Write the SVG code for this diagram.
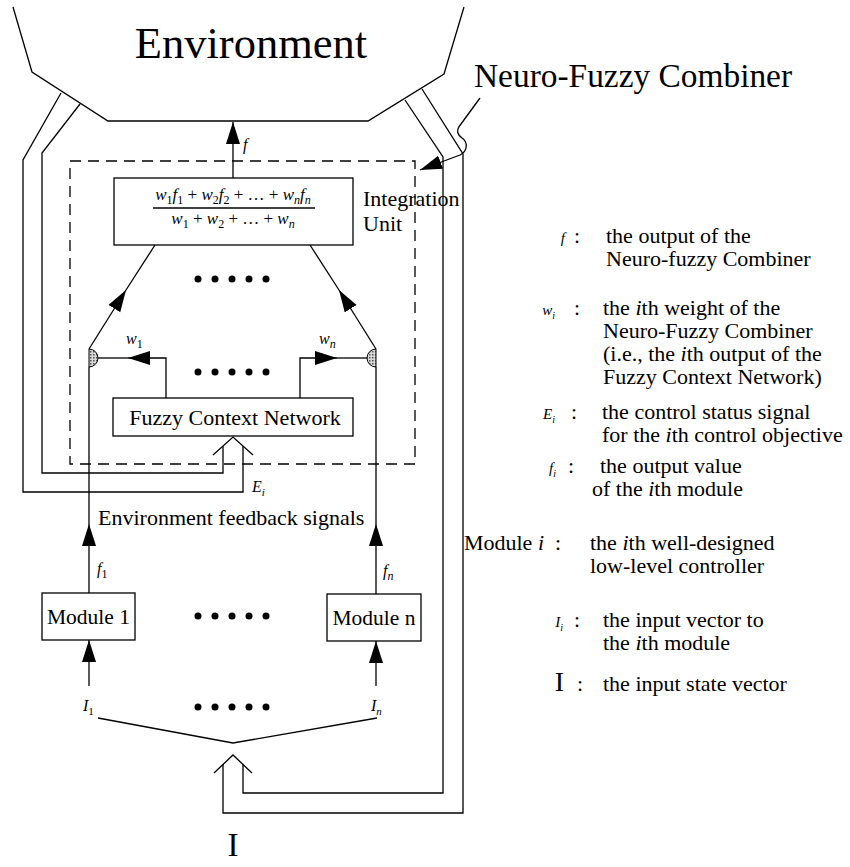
<svg xmlns="http://www.w3.org/2000/svg" width="850" height="867" viewBox="0 0 850 867">
<style>
  .ln{fill:none;stroke:#000;stroke-width:1.3}
  .box{fill:#fff;stroke:#000;stroke-width:1.3}
  .dash{fill:none;stroke:#000;stroke-width:1.3;stroke-dasharray:11 7}
  .t{font-family:"Liberation Serif","Times New Roman",serif;fill:#000}
  .i{font-family:"Liberation Serif","Times New Roman",serif;font-style:italic;fill:#000}
  .arr{marker-end:url(#ah)}
</style>
<defs>
  <marker id="ah" markerUnits="userSpaceOnUse" markerWidth="24" markerHeight="16" refX="22" refY="7" orient="auto">
    <path d="M0,0 L22,7 L0,14 Z" fill="#000"/>
  </marker>
  <pattern id="dots" width="3" height="3" patternUnits="userSpaceOnUse">
    <rect width="3" height="3" fill="#d8d8d8"/>
    <rect width="1.5" height="1.5" fill="#555"/>
  </pattern>
</defs>

<g id="environment">
  <polyline class="ln" points="13,7 32,72 108,121 368,121 444,74 464,7"/>
  <text class="t" x="251" y="58" font-size="44.5" text-anchor="middle">Environment</text>
</g>

<g id="neuro-fuzzy-combiner-label">
  <text class="t" x="474" y="87" font-size="33.4">Neuro-Fuzzy Combiner</text>
</g>

<g id="neuro-fuzzy-combiner">
  <rect class="dash" x="70" y="161" width="345" height="303"/>
</g>

<g id="integration-unit">
  <rect class="box" x="114" y="178" width="239" height="67"/>
  <text class="i" x="233" y="200" font-size="17" text-anchor="middle">w<tspan font-size="12" font-style="normal" dy="4">1</tspan><tspan dy="-4">f</tspan><tspan font-size="12" font-style="normal" dy="4">1</tspan><tspan font-style="normal" dy="-4"> + </tspan>w<tspan font-size="12" font-style="normal" dy="4">2</tspan><tspan dy="-4">f</tspan><tspan font-size="12" font-style="normal" dy="4">2</tspan><tspan font-style="normal" dy="-4"> + … + </tspan>w<tspan font-size="12" dy="4">n</tspan><tspan dy="-4">f</tspan><tspan font-size="12" dy="4">n</tspan></text>
  <line class="ln" x1="153" y1="208" x2="315" y2="208"/>
  <text class="i" x="233" y="224" font-size="17" text-anchor="middle">w<tspan font-size="12" font-style="normal" dy="4">1</tspan><tspan font-style="normal" dy="-4"> + </tspan>w<tspan font-size="12" font-style="normal" dy="4">2</tspan><tspan font-style="normal" dy="-4"> + … + </tspan>w<tspan font-size="12" dy="4">n</tspan></text>
  <text class="t" x="363" y="206" font-size="22">Integration</text>
  <text class="t" x="363" y="231" font-size="22">Unit</text>
</g>

<g id="fuzzy-context-network">
  <rect class="box" x="113" y="398" width="240" height="38"/>
  <text class="t" x="235" y="425" font-size="22" text-anchor="middle">Fuzzy Context Network</text>
</g>

<g id="module-1">
  <rect class="box" x="42" y="593" width="93" height="47"/>
  <text class="t" x="88.5" y="624" font-size="21.5" text-anchor="middle">Module 1</text>
</g>

<g id="module-n">
  <rect class="box" x="327" y="594" width="94" height="47"/>
  <text class="t" x="374" y="625" font-size="21.5" text-anchor="middle">Module n</text>
</g>

<g id="junctions">
  <path d="M89,349 A9,9 0 0,1 89,367 Z" fill="url(#dots)" stroke="#000" stroke-width="1"/>
  <path d="M376,349 A9,9 0 0,0 376,367 Z" fill="url(#dots)" stroke="#000" stroke-width="1"/>
</g>

<g id="connectors">
  <path class="ln arr" d="M233,178 L233,122"/>
  <path class="ln arr" d="M89,349 L126,290"/>
  <path class="ln" d="M126,290 L155,245"/>
  <path class="ln arr" d="M376,349 L339,290"/>
  <path class="ln" d="M339,290 L310,245"/>
  <path class="ln arr" d="M166,398 L166,358 L128,358"/>
  <path class="ln" d="M128,358 L98,358"/>
  <path class="ln arr" d="M300,398 L300,358 L337,358"/>
  <path class="ln" d="M337,358 L367,358"/>
  <path class="ln arr" d="M89,593 L89,524"/>
  <path class="ln" d="M89,524 L89,367"/>
  <path class="ln arr" d="M376,594 L376,524"/>
  <path class="ln" d="M376,524 L376,367"/>
  <path class="ln arr" d="M89,686 L89,640"/>
  <path class="ln arr" d="M376,686 L376,641"/>
  <path class="ln" d="M98,718 L233,743 L377,718"/>
  <path class="ln" d="M61,93 L23,160 L23,492 L243,492 L243,446"/>
  <path class="ln" d="M80,104 L42,153 L42,473 L223,473 L223,446"/>
  <path class="ln" d="M213,455 L233,437 L253,455"/>
  <path class="ln" d="M422,89 L463,154 L463,813 L223,813 L223,764"/>
  <path class="ln" d="M405,100 L443,157 L443,793 L243,793 L243,764"/>
  <path class="ln" d="M214,773 L233,755 L252,773"/>
  <path class="ln arr" d="M480,98 L461,124 C455,131 458,135 462,138 C468,142 468,151 460,155 L420,170"/>
</g>

<g id="ellipses" fill="#000">
  <circle cx="198" cy="279" r="3.5"/><circle cx="215" cy="279" r="3.5"/><circle cx="232" cy="279" r="3.5"/><circle cx="249" cy="279" r="3.5"/><circle cx="266" cy="279" r="3.5"/>
  <circle cx="198" cy="372" r="3.5"/><circle cx="215" cy="372" r="3.5"/><circle cx="232" cy="372" r="3.5"/><circle cx="249" cy="372" r="3.5"/><circle cx="266" cy="372" r="3.5"/>
  <circle cx="198" cy="616" r="3.5"/><circle cx="215" cy="616" r="3.5"/><circle cx="232" cy="616" r="3.5"/><circle cx="249" cy="616" r="3.5"/><circle cx="266" cy="616" r="3.5"/>
  <circle cx="198" cy="707" r="3.5"/><circle cx="215" cy="707" r="3.5"/><circle cx="232" cy="707" r="3.5"/><circle cx="249" cy="707" r="3.5"/><circle cx="266" cy="707" r="3.5"/>
</g>

<g id="labels">
  <text class="i" x="243" y="150" font-size="16">f</text>
  <text class="i" x="126" y="344" font-size="16">w<tspan font-size="12" font-style="normal" dy="4">1</tspan></text>
  <text class="i" x="319" y="344" font-size="16">w<tspan font-size="12" dy="4">n</tspan></text>
  <text class="i" x="252" y="492" font-size="16">E<tspan font-size="11" dy="4">i</tspan></text>
  <text class="t" x="98" y="525" font-size="22">Environment feedback signals</text>
  <text class="i" x="97" y="574" font-size="16">f<tspan font-size="12" font-style="normal" dy="4">1</tspan></text>
  <text class="i" x="383" y="576" font-size="16">f<tspan font-size="12" dy="4">n</tspan></text>
  <text class="i" x="83" y="711" font-size="16">I<tspan font-size="11" font-style="normal" dy="4">1</tspan></text>
  <text class="i" x="371" y="711" font-size="16">I<tspan font-size="11" dy="4">n</tspan></text>
  <text class="t" x="233" y="856" font-size="33" text-anchor="middle">I</text>
</g>

<g id="legend" class="t" font-size="22">
  <text class="i" x="565" y="243" font-size="15" text-anchor="end">f</text>
  <text x="574" y="243">:</text>
  <text x="606" y="243">the output of the</text>
  <text x="606" y="266">Neuro-fuzzy Combiner</text>

  <text class="i" x="555" y="315" font-size="15" text-anchor="end">w<tspan font-size="10" dy="4">i</tspan></text>
  <text x="574" y="315">:</text>
  <text x="603" y="315">the <tspan font-style="italic">i</tspan>th weight of the</text>
  <text x="603" y="338">Neuro-Fuzzy Combiner</text>
  <text x="603" y="361">(i.e., the <tspan font-style="italic">i</tspan>th output of the</text>
  <text x="603" y="384">Fuzzy Context Network)</text>

  <text class="i" x="555" y="419" font-size="15" text-anchor="end">E<tspan font-size="10" dy="4">i</tspan></text>
  <text x="571" y="419">:</text>
  <text x="602" y="419">the control status signal</text>
  <text x="602" y="442">for the <tspan font-style="italic">i</tspan>th control objective</text>

  <text class="i" x="556" y="473" font-size="15" text-anchor="end">f<tspan font-size="10" dy="4">i</tspan></text>
  <text x="568" y="473">:</text>
  <text x="600" y="473">the output value</text>
  <text x="592" y="496">of the <tspan font-style="italic">i</tspan>th module</text>

  <text x="544" y="550" text-anchor="end">Module <tspan font-style="italic">i</tspan></text>
  <text x="555" y="550">:</text>
  <text x="590" y="550">the <tspan font-style="italic">i</tspan>th well-designed</text>
  <text x="590" y="573">low-level controller</text>

  <text class="i" x="563" y="627" font-size="15" text-anchor="end">I<tspan font-size="10" dy="4">i</tspan></text>
  <text x="574" y="627">:</text>
  <text x="603" y="627">the input vector to</text>
  <text x="603" y="650">the <tspan font-style="italic">i</tspan>th module</text>

  <text x="564" y="691" font-size="28" text-anchor="end">I</text>
  <text x="577" y="691">:</text>
  <text x="603" y="691">the input state vector</text>
</g>
</svg>
